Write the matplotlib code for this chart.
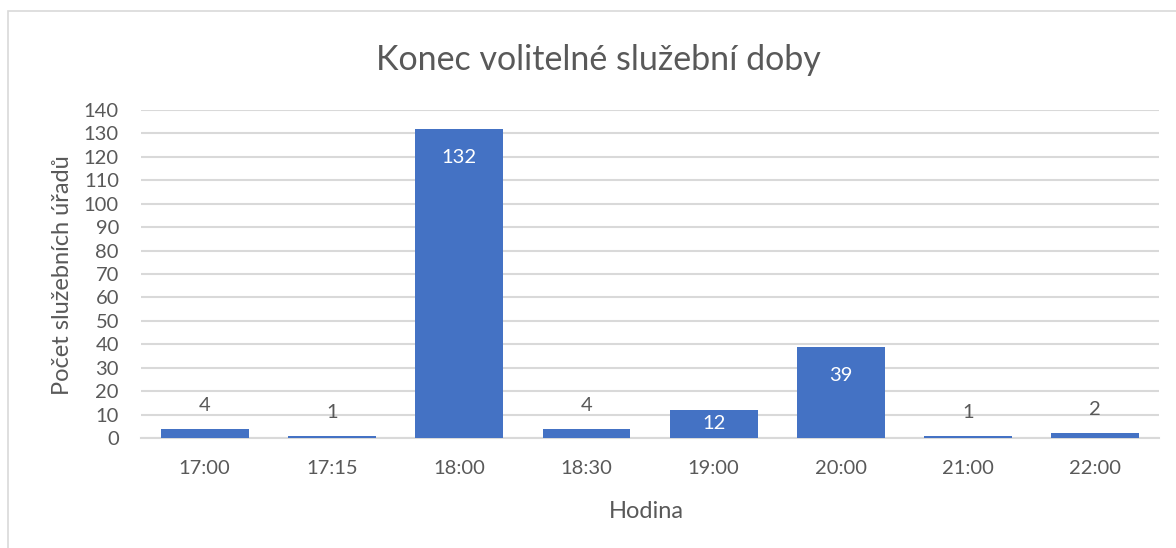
import matplotlib
matplotlib.use('Agg')
import matplotlib.pyplot as plt
import numpy as np

hours = ['17:00', '17:15', '18:00', '18:30', '19:00', '20:00', '21:00', '22:00']
counts = [4, 1, 132, 4, 12, 39, 1, 2]

plt.rcParams['font.family'] = ['Lato', 'DejaVu Sans']
grey = '#595959'
blue = '#4472C4'

fig = plt.figure(figsize=(11.76, 5.48), dpi=100)
ax = fig.add_axes([0.120, 0.2007, 0.8655, 0.5986])

x = np.arange(len(hours))
bars = ax.bar(x, counts, width=0.69, color=blue, zorder=3)

ax.set_xlim(-0.5, len(hours) - 0.5)
ax.set_ylim(0, 140)
ax.set_yticks(np.arange(0, 141, 10))
ax.set_xticks(x)
ax.set_xticklabels(hours)
ax.grid(axis='y', color='#D9D9D9', linewidth=1.5, zorder=0)
for s in ['top', 'right', 'left']:
    ax.spines[s].set_visible(False)
ax.spines['bottom'].set_color('#D9D9D9')
ax.spines['bottom'].set_linewidth(1.5)
ax.tick_params(axis='both', length=0, labelsize=14.5, colors=grey)
ax.tick_params(axis='y', pad=16)
ax.tick_params(axis='x', pad=16)

# data labels: inside end for tall bars, above for short ones
for rect, v in zip(bars, counts):
    cx = rect.get_x() + rect.get_width() / 2
    if v >= 30:
        ax.annotate(str(v), xy=(cx, v), xytext=(0, -21), textcoords='offset points',
                    ha='center', va='center', color='white', fontsize=14.5, zorder=4)
    elif v >= 10:
        ax.annotate(str(v), xy=(cx, v / 2), ha='center', va='center',
                    color='white', fontsize=14.5, zorder=4)
    else:
        ax.annotate(str(v), xy=(cx, v), xytext=(0, 17), textcoords='offset points',
                    ha='center', va='center', color=grey, fontsize=14.5, zorder=4)

fig.text(0.5085, 0.890, 'Konec volitelné služební doby', ha='center', va='center',
         fontsize=24.5, color=grey)
fig.text(0.550, 0.066, 'Hodina', ha='center', va='center', fontsize=17, color=grey)
fig.text(0.053, 0.498, 'Počet služebních úřadů', rotation=90, ha='center', va='center',
         fontsize=17, color=grey)

border = plt.Rectangle((8 / 1176, -0.1), 2, 1.1 - 11 / 548, transform=fig.transFigure,
                       fill=False, edgecolor='#D9D9D9', linewidth=1.2)
fig.patches.append(border)

fig.savefig('out.png', dpi=100, facecolor='white')
